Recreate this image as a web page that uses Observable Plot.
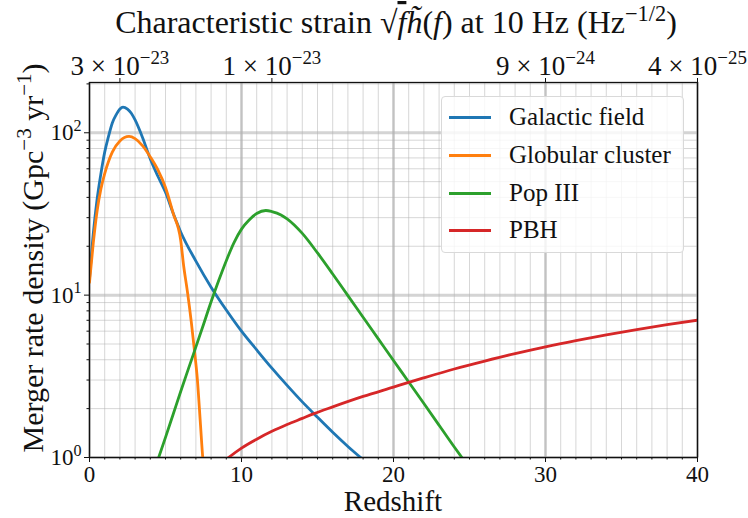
<!DOCTYPE html>
<html>
<head>
<meta charset="utf-8">
<script src="https://cdn.jsdelivr.net/npm/d3@7"></script>
<script src="https://cdn.jsdelivr.net/npm/@observablehq/plot@0.6"></script>
<style>
  body { margin: 0; background: #fff; }
  #chart { position: relative; width: 748px; height: 518px; font-family: "Liberation Serif", serif; color: #111; }
  #legend { position: absolute; left: 441px; top: 96px; width: 243px; height: 157px; box-sizing: border-box;
            border: 1px solid #d9d9d9; border-radius: 4px; background: rgba(255,255,255,0.8); }
  .lrow { position: absolute; left: 0; height: 30px; }
  .lsw { position: absolute; left: 7px; width: 42px; height: 3px; }
  .ltx { position: absolute; left: 67px; top: 0; font-size: 25px; white-space: nowrap; line-height: 30px; }
</style>
</head>
<body>
<div id="chart"><div id="legend"></div></div>
<script>
// ---------- data ----------
const seriesNames = ["Galactic field", "Globular cluster", "Pop III", "PBH"];
const seriesColors = ["#1f77b4", "#ff7f0e", "#2ca02c", "#d62728"];

const galacticZ    = [0, 0.25, 0.5, 0.75, 1, 1.25, 1.5, 1.75, 2, 2.2, 2.5, 2.75, 3, 3.5, 4, 4.5, 5, 5.5, 6, 7, 8, 9, 10, 11, 12, 13, 14, 15, 16, 17, 18];
const galacticRate = [12.6, 24, 39, 56, 76, 95, 115, 129, 140, 144, 140, 132, 120, 93, 69, 54, 43, 32, 24.5, 16.2, 11.2, 8.1, 6.0, 4.6, 3.55, 2.78, 2.2, 1.77, 1.43, 1.17, 0.97];

const globularZ    = [0, 0.25, 0.5, 0.75, 1, 1.5, 2, 2.6, 3, 3.5, 4, 4.5, 5, 5.5, 6, 6.2, 6.43, 6.7, 6.9, 7.1, 7.3, 7.45, 7.55];
const globularRate = [12, 21, 33, 45, 56, 76, 89, 95, 92, 83, 71, 59, 46, 32, 21.8, 15, 10.7, 6.8, 4.6, 3.0, 1.6, 1.0, 0.8];

const popIIIZ    = [4.55, 5, 5.5, 6, 6.5, 7, 7.5, 8, 8.5, 9, 9.5, 10, 10.5, 11, 11.6, 12, 12.6, 13, 14, 15, 16, 17, 18, 19, 20, 21, 22, 23, 24, 24.6];
const popIIIRate = [1.0, 1.33, 1.84, 2.55, 3.5, 4.8, 6.6, 9.1, 12.3, 16.3, 21, 25.5, 29, 31.8, 33.2, 32.7, 31.2, 29.5, 24, 18.2, 13.5, 9.93, 7.31, 5.38, 3.96, 2.92, 2.15, 1.58, 1.16, 0.97];

const pbhZ    = [9.0, 9.15, 10, 11, 12, 13, 14, 14.76, 16, 18, 20, 21, 22, 24, 26, 28, 30, 32, 34, 36, 38, 40];
const pbhRate = [0.975, 1.0, 1.143, 1.297, 1.449, 1.596, 1.742, 1.862, 2.05, 2.377, 2.716, 2.904, 3.097, 3.508, 3.926, 4.365, 4.808, 5.248, 5.689, 6.138, 6.577, 7.015];

const xMajorTicks = [0, 10, 20, 30, 40];
const xMinorTicks = d3.range(0, 41);
const yMajorTicks = [1, 10, 100];
const yMinorTicks = [2, 3, 4, 5, 6, 7, 8, 9, 20, 30, 40, 50, 60, 70, 80, 90, 200];
const topTickZ = [2, 12, 30, 40];
const topTickLabels = ["3 × 10^{−23}", "1 × 10^{−23}", "9 × 10^{−24}", "4 × 10^{−25}"];

const titleText = "Characteristic strain";
const xLabel = "Redshift";
const yLabel = "Merger rate density (Gpc^{−3} yr^{−1})";

// ---------- table ----------
const zs = [galacticZ, globularZ, popIIIZ, pbhZ];
const rates = [galacticRate, globularRate, popIIIRate, pbhRate];
const rows = [];
seriesNames.forEach((s, i) => zs[i].forEach((z, j) => rows.push({series: s, z, rate: rates[i][j]})));

const gridColor = "#b0b0b0";

const svg = Plot.plot({
  width: 748,
  height: 518,
  marginLeft: 89,
  marginRight: 51,
  marginTop: 82,
  marginBottom: 61,
  style: {fontFamily: "'Liberation Serif', serif", fontSize: "23px", color: "#111", background: "white", overflow: "visible"},
  x: {domain: [0, 40]},
  y: {type: "log", domain: [1, 204]},
  color: {domain: seriesNames, range: seriesColors},
  marks: [
    Plot.gridX(xMinorTicks, {stroke: gridColor, strokeOpacity: 0.5, strokeWidth: 1}),
    Plot.gridY(yMinorTicks, {stroke: gridColor, strokeOpacity: 0.5, strokeWidth: 1}),
    Plot.gridX(xMajorTicks, {stroke: gridColor, strokeOpacity: 0.55, strokeWidth: 3}),
    Plot.gridY(yMajorTicks, {stroke: gridColor, strokeOpacity: 0.55, strokeWidth: 3}),
    Plot.line(rows, {x: "z", y: "rate", z: "series", stroke: "series", strokeWidth: 2.8, curve: "monotone-x", clip: true}),
    Plot.axisX(xMinorTicks, {anchor: "bottom", tickSize: 2.5, tickFormat: () => "", label: null, stroke: "#111"}),
    Plot.axisX(xMajorTicks, {anchor: "bottom", tickSize: 5, tickPadding: 3, tickFormat: d => String(d), label: null, stroke: "#111"}),
    Plot.axisY(yMinorTicks, {anchor: "left", tickSize: 2.5, tickFormat: () => "", label: null, stroke: "#111"}),
    Plot.axisY(yMajorTicks, {anchor: "left", tickSize: 5, tickPadding: 3, tickFormat: d => "10^{" + Math.round(Math.log10(d)) + "}", label: null, stroke: "#111"}),
    Plot.axisX(topTickZ, {anchor: "top", tickSize: 5, tickPadding: 3, fontSize: 27, tickFormat: d => topTickLabels[topTickZ.indexOf(d)], label: null, stroke: "#111"}),
    Plot.frame({stroke: "#111", strokeWidth: 1.3})
  ]
});

document.getElementById("chart").prepend(svg);

const ns = "http://www.w3.org/2000/svg";
function setRich(el, str, fs, shift = 0.4) {
  while (el.firstChild) el.removeChild(el.firstChild);
  const parts = str.split(/(\^\{[^}]*\})/);
  let raised = false;
  for (const p of parts) {
    if (!p) continue;
    const t = document.createElementNS(ns, "tspan");
    if (p.startsWith("^{")) {
      t.textContent = p.slice(2, -1);
      t.setAttribute("font-size", fs * 0.7);
      t.setAttribute("dy", -fs * shift);
      raised = true;
    } else {
      t.textContent = p;
      if (raised) { t.setAttribute("dy", fs * shift); raised = false; }
    }
    el.appendChild(t);
  }
}
svg.querySelectorAll("text").forEach(el => {
  const s = el.textContent;
  if (s.includes("^{")) {
    const fs = parseFloat(getComputedStyle(el).fontSize) || 23;
    setRich(el, s, fs);
  }
});

// title
const sel = d3.select(svg);
const tfs = 32;
const title = sel.append("text").attr("x", 396).attr("y", 33).attr("text-anchor", "middle")
  .attr("font-size", tfs).attr("fill", "#111");
const pieces = [
  [titleText + " ", {}],
  ["√", {}],
  ["f", {italic: true, over: true}],
  ["h\u0303", {italic: true}],
  ["(", {}],
  ["f", {italic: true}],
  [")", {}],
  [" at 10 Hz (Hz", {}],
  ["−1/2", {sup: true}],
  [")", {down: true}]
];
for (const [txt, o] of pieces) {
  const t = title.append("tspan").text(txt);
  if (o.italic) t.attr("font-style", "italic");
  if (o.over) t.style("text-decoration", "overline");
  if (o.sup) t.attr("font-size", tfs * 0.7).attr("dy", -tfs * 0.36);
  if (o.down) t.attr("dy", tfs * 0.36);
}

// x label
sel.append("text").attr("x", 393).attr("y", 511).attr("text-anchor", "middle")
  .attr("font-size", 29).attr("fill", "#111").text(xLabel);

// y label
const yl = sel.append("text").attr("transform", "translate(43,258) rotate(-90)")
  .attr("text-anchor", "middle").attr("font-size", 30).attr("fill", "#111");
setRich(yl.node(), yLabel, 30);

// legend
const legend = document.getElementById("legend");
seriesNames.forEach((s, i) => {
  const top = [5, 43, 81, 118][i];
  const row = document.createElement("div");
  row.className = "lrow";
  row.style.top = top + "px";
  const sw = document.createElement("div");
  sw.className = "lsw";
  sw.style.background = seriesColors[i];
  sw.style.top = "14px";
  const tx = document.createElement("div");
  tx.className = "ltx";
  tx.textContent = s;
  row.appendChild(sw);
  row.appendChild(tx);
  legend.appendChild(row);
});
</script>
</body>
</html>
